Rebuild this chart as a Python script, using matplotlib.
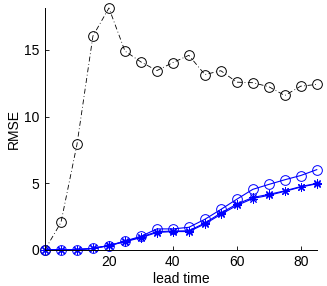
import matplotlib
matplotlib.use("Agg")
import matplotlib.pyplot as plt

plt.rcParams['font.family'] = ['Liberation Sans', 'DejaVu Sans']

lead_time = [0, 5, 10, 15, 20, 25, 30, 35, 40, 45, 50, 55, 60, 65, 70, 75, 80, 85]
rmse_black = [0, 2.05, 7.9, 16.05, 18.15, 14.92, 14.1, 13.45, 14.05, 14.6, 13.15, 13.44,
              12.58, 12.54, 12.24, 11.58, 12.28, 12.41]
rmse_circle = [0, 0, 0, 0.1, 0.3, 0.65, 1.0, 1.56, 1.56, 1.68, 2.28, 3.02, 3.79, 4.53,
               4.9, 5.25, 5.57, 6.01]
rmse_star1 = [0, 0, 0, 0.1, 0.3, 0.6, 0.9, 1.29, 1.36, 1.36, 1.93, 2.65, 3.32, 3.84,
              4.08, 4.38, 4.70, 4.95]
rmse_star2 = [0, 0, 0, 0.1, 0.32, 0.62, 0.95, 1.35, 1.4, 1.42, 2.0, 2.75, 3.42, 3.92,
              4.15, 4.42, 4.74, 4.98]
xticks = [20, 40, 60, 80]
yticks = [0, 5, 10, 15]

fig = plt.figure(figsize=(3.27, 2.86), dpi=100)
ax = fig.add_axes([0.1376, 0.127, 0.831, 0.845])

star = (8, 2, 0)
ax.plot(lead_time, rmse_black, color='black', linestyle=(0, (6, 3, 1, 3)), linewidth=0.6,
        marker='o', markersize=7, markerfacecolor='none', markeredgewidth=0.7,
        clip_on=False)
ax.plot(lead_time, rmse_star2, color='blue', linewidth=0.8,
        marker=star, markersize=6, markeredgewidth=0.7, clip_on=False)
ax.plot(lead_time, rmse_star1, color='blue', linewidth=0.8,
        marker=star, markersize=6, markeredgewidth=0.7, clip_on=False)
ax.plot(lead_time, rmse_circle, color='blue', linewidth=0.8,
        marker='o', markersize=7, markerfacecolor='none', markeredgewidth=0.7,
        clip_on=False)

ax.set_xlim(0, 85)
ax.set_ylim(0, 18.15)
ax.set_xticks(xticks)
ax.set_yticks(yticks)
ax.tick_params(direction='in', length=3, width=0.6, labelsize=10, pad=4)
for s in ['top', 'right']:
    ax.spines[s].set_visible(False)
for s in ['left', 'bottom']:
    ax.spines[s].set_linewidth(0.7)
ax.set_xlabel('lead time', fontsize=10, labelpad=2)
ax.set_ylabel('RMSE', fontsize=10, labelpad=2)

fig.savefig('out.png', dpi=100)
